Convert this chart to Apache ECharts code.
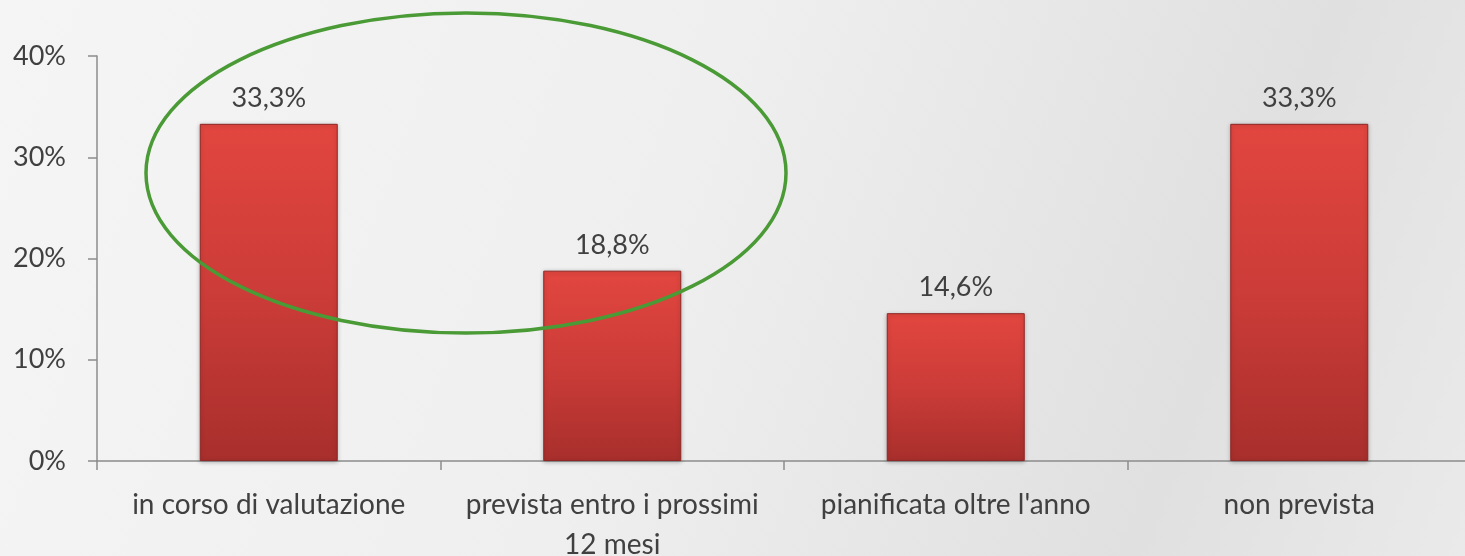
<!DOCTYPE html>
<html>
<head>
<meta charset="utf-8">
<script src="https://cdn.jsdelivr.net/npm/echarts@6/dist/echarts.min.js"></script>
<style>
  html, body { margin: 0; padding: 0; }
  #chart { width: 1465px; height: 556px; }
</style>
</head>
<body>
<div id="chart"></div>
<script>
const categories = ['in corso di valutazione', 'prevista entro i prossimi\n12 mesi', "pianificata oltre l'anno", 'non prevista']
const values = [33.3, 18.8, 14.6, 33.3]
const yTicks = [0, 10, 20, 30, 40]

const textColor = '#404040'
const fontFamily = 'Lato, "Open Sans", sans-serif'

const chart = echarts.init(document.getElementById('chart'))

const option = {
  backgroundColor: new echarts.graphic.LinearGradient(0, 0, 1, 1, [
    { offset: 0, color: '#f5f5f5' },
    { offset: 0.45, color: '#efefef' },
    { offset: 0.8, color: '#e0e0e0' },
    { offset: 1, color: '#eaeaea' }
  ]),
  animation: false,
  grid: {
    left: 97,
    top: 56,
    width: 1374,
    height: 405,
    outerBoundsMode: 'none'
  },
  xAxis: {
    type: 'category',
    data: categories,
    axisLine: { lineStyle: { color: '#8c8c8c', width: 1.5 } },
    axisTick: { show: true, length: 9, alignWithLabel: false, lineStyle: { color: '#8c8c8c', width: 1.5 } },
    axisLabel: {
      color: textColor,
      fontSize: 28,
      fontFamily: fontFamily,
      margin: 24,
      lineHeight: 40,
      interval: 0
    }
  },
  yAxis: {
    type: 'value',
    min: yTicks[0],
    max: yTicks[yTicks.length - 1],
    interval: 10,
    axisLine: { show: true, lineStyle: { color: '#8c8c8c', width: 1.5 } },
    axisTick: { show: true, length: 9, lineStyle: { color: '#8c8c8c', width: 1.5 } },
    splitLine: { show: false },
    axisLabel: {
      color: textColor,
      fontSize: 27,
      fontFamily: fontFamily,
      margin: 31,
      formatter: v => v + '%'
    }
  },
  series: [
    {
      type: 'bar',
      data: values,
      barWidth: 138,
      itemStyle: {
        color: new echarts.graphic.LinearGradient(0, 0, 0, 1, [
          { offset: 0, color: '#e2463f' },
          { offset: 0.5, color: '#cc3c38' },
          { offset: 1, color: '#a82f2c' }
        ]),
        borderColor: '#8e2725',
        borderWidth: 1,
        shadowColor: 'rgba(0,0,0,0.25)',
        shadowBlur: 4,
        shadowOffsetY: 1
      },
      label: {
        show: true,
        position: 'top',
        distance: 12,
        color: textColor,
        fontSize: 27,
        fontFamily: fontFamily,
        formatter: p => p.value.toFixed(1).replace('.', ',') + '%'
      }
    }
  ],
  graphic: [
    {
      type: 'ellipse',
      shape: { cx: 466, cy: 173, rx: 320, ry: 160 },
      style: { fill: 'none', stroke: '#4a9a36', lineWidth: 3.5 },
      z: 100
    }
  ]
}

chart.setOption(option)
</script>
</body>
</html>
